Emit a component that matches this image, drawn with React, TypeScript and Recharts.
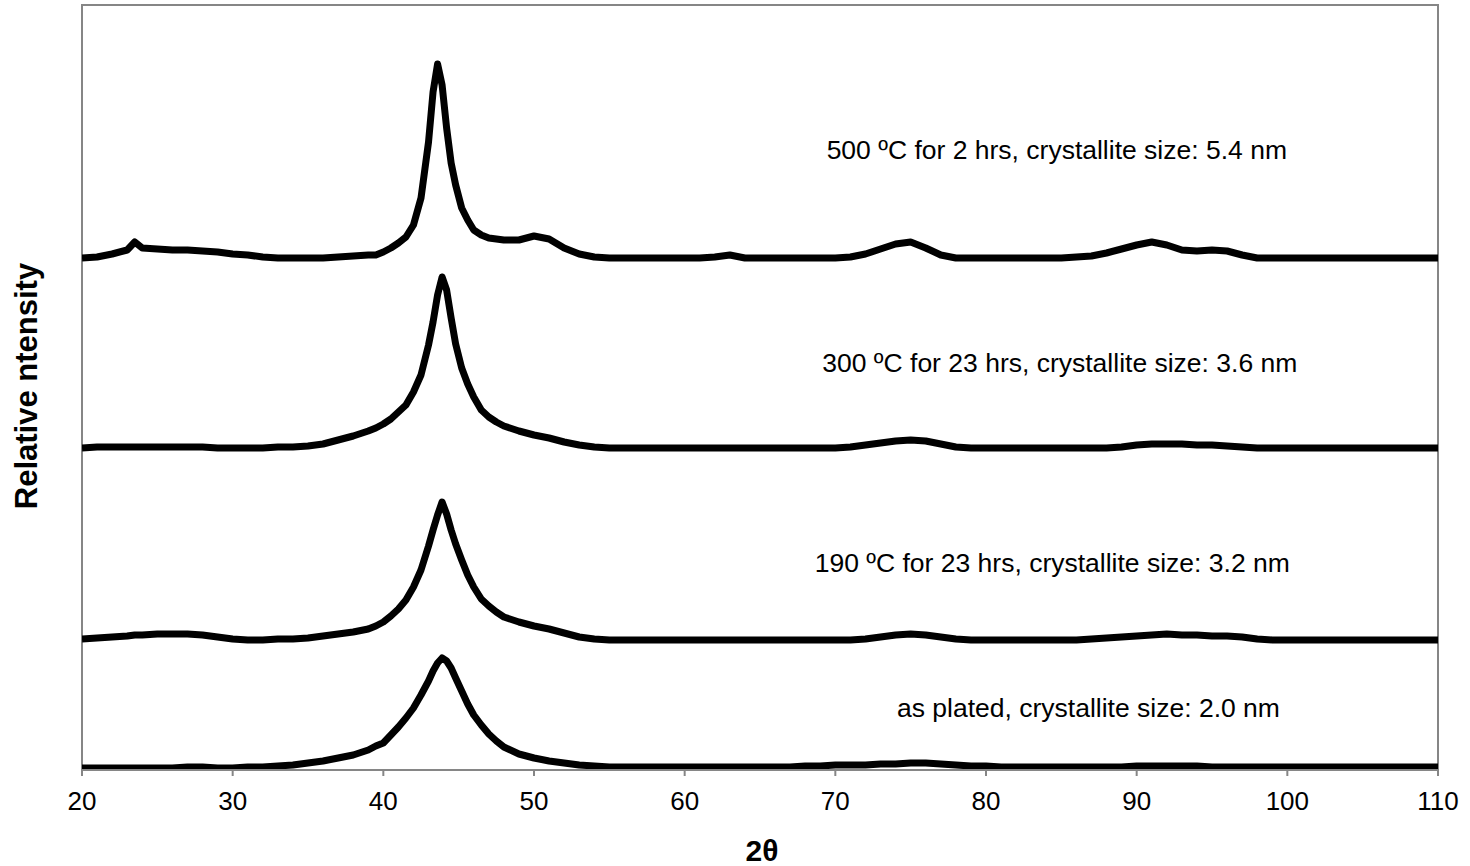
import React from 'react';
import { LineChart, Line, XAxis, YAxis, ReferenceArea, ReferenceDot } from 'recharts';

// 2θ sample positions (degrees)
const twoTheta = [
  20, 21, 22, 23, 23.5, 24, 25, 26, 27, 28, 29, 30, 31, 32, 33, 34, 35, 36, 37, 38, 39,
  39.5, 40, 40.5, 41, 41.5, 42, 42.5, 43, 43.3, 43.6, 43.9, 44.2, 44.5, 44.8, 45.2, 45.6, 46, 46.5, 47, 47.5, 48,
  49, 50, 51, 52, 53, 54, 55, 56, 57, 58,
  59, 60, 61, 62, 63, 64, 65, 66, 67, 68,
  69, 70, 71, 72, 73, 74, 75, 76, 77, 78,
  79, 80, 81, 82, 83, 84, 85, 86, 87, 88,
  89, 90, 91, 92, 93, 94, 95, 96, 97, 98,
  99, 100, 101, 102, 103, 104, 105, 106, 107, 108,
  109, 110,
];

// relative intensities (arbitrary units) for each sample
const i500 = [
  2, 3, 6, 10, 18, 12, 11, 10, 10, 9, 8, 6, 5, 3, 2, 2, 2, 2, 3, 4, 5,
  5, 8, 12, 17, 23, 35, 62, 118, 168, 196, 175, 132, 97, 75, 52, 40, 30, 25, 22, 21, 20,
  20, 24, 21, 12, 6, 3, 2, 2, 2, 2,
  2, 2, 2, 3, 5, 2, 2, 2, 2, 2,
  2, 2, 3, 6, 11, 16, 18, 12, 5, 2,
  2, 2, 2, 2, 2, 2, 2, 3, 4, 7,
  11, 15, 18, 15, 10, 9, 10, 9, 5, 2,
  2, 2, 2, 2, 2, 2, 2, 2, 2, 2,
  2, 2,
];
const i300 = [
  2, 3, 3, 3, 3, 3, 3, 3, 3, 3, 2, 2, 2, 2, 3, 3, 4, 6, 10, 14, 19,
  22, 26, 31, 38, 45, 58, 75, 105, 128, 155, 173, 160, 132, 106, 82, 66, 53, 40, 33, 28, 24,
  19, 15, 12, 8, 5, 3, 2, 2, 2, 2,
  2, 2, 2, 2, 2, 2, 2, 2, 2, 2,
  2, 2, 3, 5, 7, 9, 10, 9, 6, 3,
  2, 2, 2, 2, 2, 2, 2, 2, 2, 2,
  3, 5, 6, 6, 6, 5, 5, 4, 3, 2,
  2, 2, 2, 2, 2, 2, 2, 2, 2, 2,
  2, 2,
];
const i190 = [
  3, 4, 5, 6, 7, 7, 8, 8, 8, 7, 5, 3, 2, 2, 3, 3, 4, 6, 8, 10, 13,
  16, 20, 26, 33, 42, 55, 72, 96, 112, 127, 140, 128, 112, 98, 82, 67, 55, 43, 36, 30, 25,
  20, 16, 13, 9, 5, 3, 2, 2, 2, 2,
  2, 2, 2, 2, 2, 2, 2, 2, 2, 2,
  2, 2, 2, 3, 5, 7, 8, 7, 5, 3,
  2, 2, 2, 2, 2, 2, 2, 2, 3, 4,
  5, 6, 7, 8, 7, 7, 6, 6, 5, 3,
  2, 2, 2, 2, 2, 2, 2, 2, 2, 2,
  2, 2,
];
const iPlated = [
  1, 1, 1, 1, 1, 1, 1, 1, 2, 2, 1, 1, 2, 2, 3, 4, 6, 8, 11, 14, 19,
  23, 26, 34, 42, 51, 61, 74, 88, 98, 106, 111, 108, 101, 91, 78, 65, 54, 44, 35, 28, 22,
  15, 11, 8, 6, 4, 3, 2, 2, 2, 2,
  2, 2, 2, 2, 2, 2, 2, 2, 2, 3,
  3, 4, 4, 4, 5, 5, 6, 6, 5, 4,
  3, 3, 2, 2, 2, 2, 2, 2, 2, 2,
  2, 3, 3, 3, 3, 3, 2, 2, 2, 2,
  2, 2, 2, 2, 2, 2, 2, 2, 2, 2,
  2, 2,
];

const seriesNames = [
  '500 ºC for 2 hrs, crystallite size: 5.4 nm',
  '300 ºC for 23 hrs, crystallite size: 3.6 nm',
  '190 ºC for 23 hrs, crystallite size: 3.2 nm',
  'as plated, crystallite size: 2.0 nm',
];
const seriesIntensities = [i500, i300, i190, iPlated];
// vertical stacking offsets of each pattern
const seriesOffsets = [510, 320, 128, 1];
// label anchor positions (2θ, stacked intensity)
const labelX = [84.7, 84.9, 84.4, 86.8];
const labelY = [620, 407, 207, 62];

const xTicks = [20, 30, 40, 50, 60, 70, 80, 90, 100, 110];

const buildSeries = (vals: number[], off: number) =>
  twoTheta.map((t, i) => ({ t, v: off + vals[i] }));

const FONT = '"Liberation Sans", Arial, sans-serif';
const GRAY = '#868686';

export default function App() {
  return (
    <div style={{ position: 'absolute', left: 0, top: 0, width: 1470, height: 866, fontFamily: FONT, background: '#fff' }}>
      <LineChart width={1470} height={866} margin={{ top: 5, right: 32, bottom: 36, left: 82 }}>
        <XAxis
          dataKey="t"
          type="number"
          domain={[20, 110]}
          ticks={xTicks}
          allowDataOverflow
          height={60}
          stroke={GRAY}
          strokeWidth={2}
          tickSize={6}
          tickMargin={16}
          tick={{ fill: '#000', fontSize: 26, fontFamily: FONT }}
          tickLine={{ stroke: GRAY, strokeWidth: 2 }}
        />
        <YAxis type="number" domain={[0, 765]} hide allowDataOverflow />
        <ReferenceArea x1={20} x2={110} y1={0} y2={765} fill="none" stroke={GRAY} strokeWidth={2} fillOpacity={0} />
        {seriesIntensities.map((vals, k) => (
          <Line
            key={seriesNames[k]}
            name={seriesNames[k]}
            data={buildSeries(vals, seriesOffsets[k])}
            dataKey="v"
            type="linear"
            stroke="#000"
            strokeWidth={7}
            strokeLinejoin="round"
            dot={false}
            activeDot={false}
            isAnimationActive={false}
          />
        ))}
        {seriesNames.map((name, k) => (
          <ReferenceDot
            key={'lbl' + k}
            x={labelX[k]}
            y={labelY[k]}
            r={0}
            fill="none"
            stroke="none"
            label={{ value: name, position: 'center', fill: '#000', fontSize: 26.5, fontFamily: FONT }}
          />
        ))}
      </LineChart>
      <div
        style={{
          position: 'absolute',
          left: 762,
          top: 851,
          transform: 'translate(-50%, -50%)',
          fontWeight: 'bold',
          fontSize: 30,
          color: '#000',
          whiteSpace: 'nowrap',
        }}
      >
        2θ
      </div>
      <div
        style={{
          position: 'absolute',
          left: 27,
          top: 386,
          transform: 'translate(-50%, -50%) rotate(-90deg)',
          fontWeight: 'bold',
          fontSize: 31,
          color: '#000',
          whiteSpace: 'nowrap',
        }}
      >
        Relative ntensity
      </div>
    </div>
  );
}
